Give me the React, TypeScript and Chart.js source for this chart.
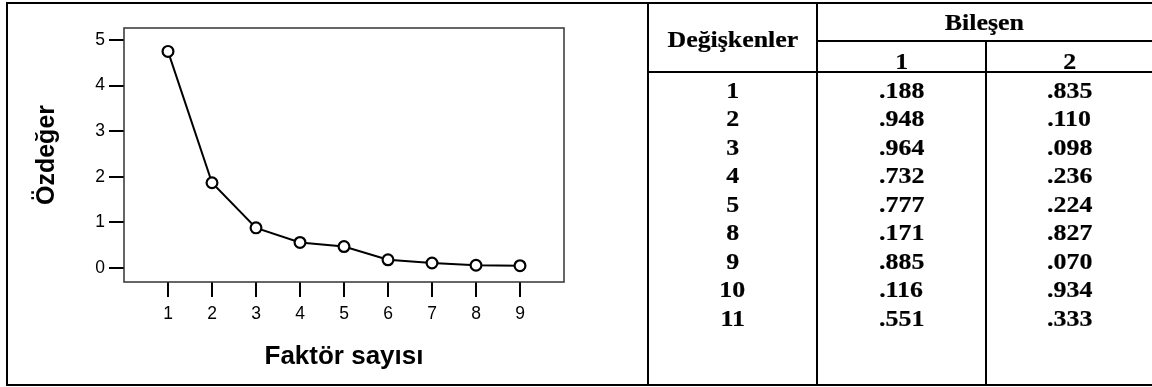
import React, { useEffect, useRef } from 'react';
import { Chart, registerables } from 'chart.js';

Chart.register(...registerables);

// ---- Scree plot data ----
const FACTORS = [1, 2, 3, 4, 5, 6, 7, 8, 9];
const EIGENVALUES = [4.75, 1.87, 0.88, 0.56, 0.47, 0.18, 0.11, 0.06, 0.05];
const X_TICKS = [1, 2, 3, 4, 5, 6, 7, 8, 9];
const Y_TICKS = [0, 1, 2, 3, 4, 5];
const X_TITLE = 'Faktör sayısı';
const Y_TITLE = 'Özdeğer';

// ---- Table data ----
const HEADER_VAR = 'Değişkenler';
const HEADER_GROUP = 'Bileşen';
const COMPONENT_LABELS = ['1', '2'];
const VARIABLES = ['1', '2', '3', '4', '5', '8', '9', '10', '11'];
const COMPONENT_1 = ['.188', '.948', '.964', '.732', '.777', '.171', '.885', '.116', '.551'];
const COMPONENT_2 = ['.835', '.110', '.098', '.236', '.224', '.827', '.070', '.934', '.333'];

const SANS = '"Liberation Sans", Arial, Helvetica, sans-serif';
const SERIF = '"Liberation Serif", "Times New Roman", Times, serif';

Chart.defaults.font.family = SANS;
Chart.defaults.font.size = 17.5;
Chart.defaults.color = '#000';

const framePlugin = {
  id: 'frame',
  beforeDatasetsDraw(chart: any) {
    const { ctx, chartArea: a } = chart;
    ctx.save();
    ctx.strokeStyle = '#333';
    ctx.lineWidth = 1.5;
    ctx.strokeRect(a.left, a.top, a.right - a.left, a.bottom - a.top);
    ctx.restore();
  },
};

function ScreePlot() {
  const ref = useRef<HTMLCanvasElement | null>(null);
  useEffect(() => {
    if (!ref.current) return;
    const chart = new Chart(ref.current, {
      type: 'line',
      data: {
        datasets: [
          {
            data: FACTORS.map((f, i) => ({ x: f, y: EIGENVALUES[i] })),
            borderColor: '#000',
            borderWidth: 2,
            tension: 0,
            pointRadius: 5.4,
            pointBorderWidth: 2.2,
            pointBorderColor: '#000',
            pointBackgroundColor: '#fff',
            fill: false,
          },
        ],
      },
      plugins: [framePlugin],
      options: {
        animation: false,
        responsive: false,
        devicePixelRatio: 1,
        layout: { padding: { left: 0, top: 28, right: 76, bottom: 0 } },
        plugins: { legend: { display: false }, tooltip: { enabled: false } },
        scales: {
          x: {
            type: 'linear',
            min: 0,
            max: 10,
            afterBuildTicks: (s: any) => {
              s.ticks = X_TICKS.map((v) => ({ value: v }));
            },
            afterFit: (s: any) => {
              s.height = 105;
            },
            border: { display: false },
            grid: {
              drawOnChartArea: false,
              drawTicks: true,
              tickLength: 15,
              color: '#000',
              lineWidth: 2,
            },
            ticks: {
              color: '#000',
              padding: 7,
              maxRotation: 0,
              font: { family: SANS, size: 17.5 },
            },
            title: {
              display: true,
              text: X_TITLE,
              color: '#000',
              font: { family: SANS, size: 26, weight: 'bold' },
              padding: { top: 0, bottom: 15 },
            },
          },
          y: {
            type: 'linear',
            min: -0.307,
            max: 5.263,
            afterBuildTicks: (s: any) => {
              s.ticks = Y_TICKS.map((v) => ({ value: v }));
            },
            afterFit: (s: any) => {
              s.width = 124;
            },
            border: { display: false },
            grid: {
              drawOnChartArea: false,
              drawTicks: true,
              tickLength: 15,
              color: '#000',
              lineWidth: 2,
            },
            ticks: {
              color: '#000',
              padding: 4,
              font: { family: SANS, size: 17.5 },
            },
            title: {
              display: true,
              text: Y_TITLE,
              color: '#000',
              font: { family: SANS, size: 25, weight: 'bold' },
              padding: { top: 32, bottom: 0 },
            },
          },
        },
      },
    } as any);
    return () => chart.destroy();
  }, []);
  return (
    <canvas
      ref={ref}
      width={640}
      height={387}
      style={{ position: 'absolute', left: 0, top: 0, width: 640, height: 387 }}
    />
  );
}

const line = (left: number, top: number, width: number, height: number, key: string) => (
  <div key={key} style={{ position: 'absolute', left, top, width, height, background: '#000', zIndex: 2 }} />
);

function Cell({ text, left, width, cy }: { text: string; left: number; width: number; cy: number }) {
  return (
    <div
      style={{
        position: 'absolute',
        left,
        width,
        top: cy - 15,
        height: 30,
        lineHeight: '30px',
        textAlign: 'center',
        fontFamily: SERIF,
        fontWeight: 'bold',
        fontSize: 22.5,
        color: '#000',
        whiteSpace: 'nowrap',
        zIndex: 3,
        WebkitTextStroke: '0.2px #000',
      }}
    >
      <span style={{ display: 'inline-block', transform: 'scaleX(1.15)' }}>{text}</span>
    </div>
  );
}

export default function App() {
  const COL_VAR = { left: 649, width: 167 };
  const COL_1 = { left: 818, width: 167 };
  const COL_2 = { left: 987, width: 165 };
  const ROW0 = 90.8;
  const PITCH = 28.47;
  return (
    <div
      style={{
        position: 'fixed',
        left: 0,
        top: 0,
        width: 1152,
        height: 387,
        background: '#fff',
        overflow: 'hidden',
      }}
    >
      <ScreePlot />
      {/* outer frame */}
      {line(6, 2, 1146, 2, 'top')}
      {line(6, 2, 2, 384, 'left')}
      {line(6, 384, 1146, 2, 'bottom')}
      {/* table lines */}
      {line(647, 2, 2, 384, 'tleft')}
      {line(816, 2, 2, 384, 'c1')}
      {line(985, 40, 2, 346, 'c2')}
      {line(816, 40, 336, 2, 'grp')}
      {line(647, 71, 505, 2, 'hdr')}
      {/* headers */}
      <Cell text={HEADER_VAR} left={COL_VAR.left} width={COL_VAR.width} cy={39.5} />
      <Cell text={HEADER_GROUP} left={COL_1.left} width={COL_1.width + COL_2.width} cy={23} />
      <Cell text={COMPONENT_LABELS[0]} left={COL_1.left} width={COL_1.width} cy={61.5} />
      <Cell text={COMPONENT_LABELS[1]} left={COL_2.left} width={COL_2.width} cy={61.5} />
      {VARIABLES.map((v, i) => (
        <React.Fragment key={v}>
          <Cell text={v} left={COL_VAR.left} width={COL_VAR.width} cy={ROW0 + i * PITCH} />
          <Cell text={COMPONENT_1[i]} left={COL_1.left} width={COL_1.width} cy={ROW0 + i * PITCH} />
          <Cell text={COMPONENT_2[i]} left={COL_2.left} width={COL_2.width} cy={ROW0 + i * PITCH} />
        </React.Fragment>
      ))}
    </div>
  );
}
